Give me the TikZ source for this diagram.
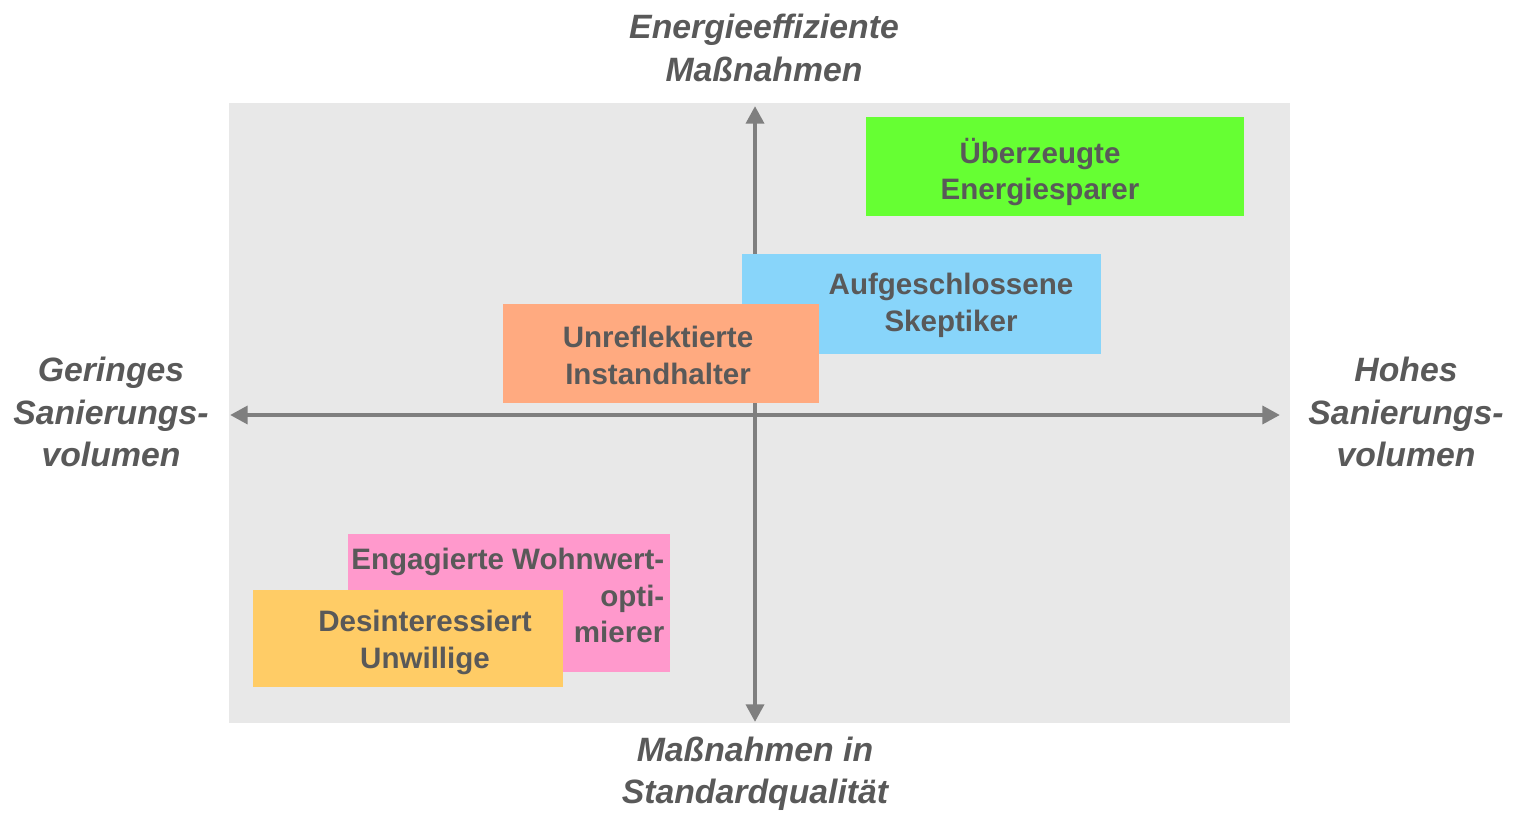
\documentclass[tikz,border=0pt]{standalone}
\usepackage{fontspec}
\setmainfont{Liberation Sans}
\usetikzlibrary{arrows.meta}
\definecolor{bggray}{HTML}{E8E8E8}
\definecolor{axgray}{HTML}{7F7F7F}
\definecolor{txtgray}{HTML}{595959}
\definecolor{cgreen}{HTML}{66FF33}
\definecolor{cblue}{HTML}{88D5FA}
\definecolor{corange}{HTML}{FFAA80}
\definecolor{cpink}{HTML}{FF99CC}
\definecolor{cyellow}{HTML}{FFCC66}
\begin{document}
\begin{tikzpicture}[x=0.01cm,y=-0.01cm,
  axlabel/.style={text=txtgray,align=center,font=\fontsize{9.6}{12}\selectfont\bfseries\itshape},
  boxlabel/.style={text=txtgray,align=center,font=\fontsize{8.4}{10.5}\selectfont\bfseries},
  axisline/.style={draw=axgray,line width=1.4pt,{Triangle[length=5pt,width=5pt]}-{Triangle[length=5pt,width=5pt]}}]
\useasboundingbox (0,0) rectangle (1516,818);
\fill[bggray] (229,103) rectangle (1290,723);
\coordinate (top) at (755,106);
\coordinate (bot) at (755,722);
\coordinate (lft) at (230,415);
\coordinate (rgt) at (1280,415);
\draw[axisline] (bot) -- (top);
\draw[axisline] (lft) -- (rgt);
% boxes
\fill[cgreen] (866,117) rectangle (1244,216);
\node[boxlabel] (green) at (1040,172) {Überzeugte\\Energiesparer};
\fill[cblue] (742,254) rectangle (1101,354);
\node[boxlabel] (blue) at (951,305) {Aufgeschlossene\\Skeptiker};
\fill[corange] (503,304) rectangle (819,403);
\node[boxlabel] (orange) at (658,355) {Unreflektierte\\Instandhalter};
\fill[cpink] (348,534) rectangle (670,672);
\node[boxlabel,align=right,anchor=north east,inner sep=0pt] (pink) at (665,547) {Engagierte Wohnwert-\\opti-\\mierer};
\fill[cyellow] (253,590) rectangle (563,687);
\node[boxlabel] (yellow) at (425,642) {Desinteressiert\\Unwillige};
% axis labels
\node[axlabel] (ltop) at (764,48) {Energieeffiziente\\Maßnahmen};
\node[axlabel] (lbot) at (755,774) {Maßnahmen in\\Standardqualität};
\node[axlabel] (lleft) at (111,412) {Geringes\\Sanierungs-\\volumen};
\node[axlabel] (lright) at (1406,412) {Hohes\\Sanierungs-\\volumen};
\end{tikzpicture}
\end{document}
